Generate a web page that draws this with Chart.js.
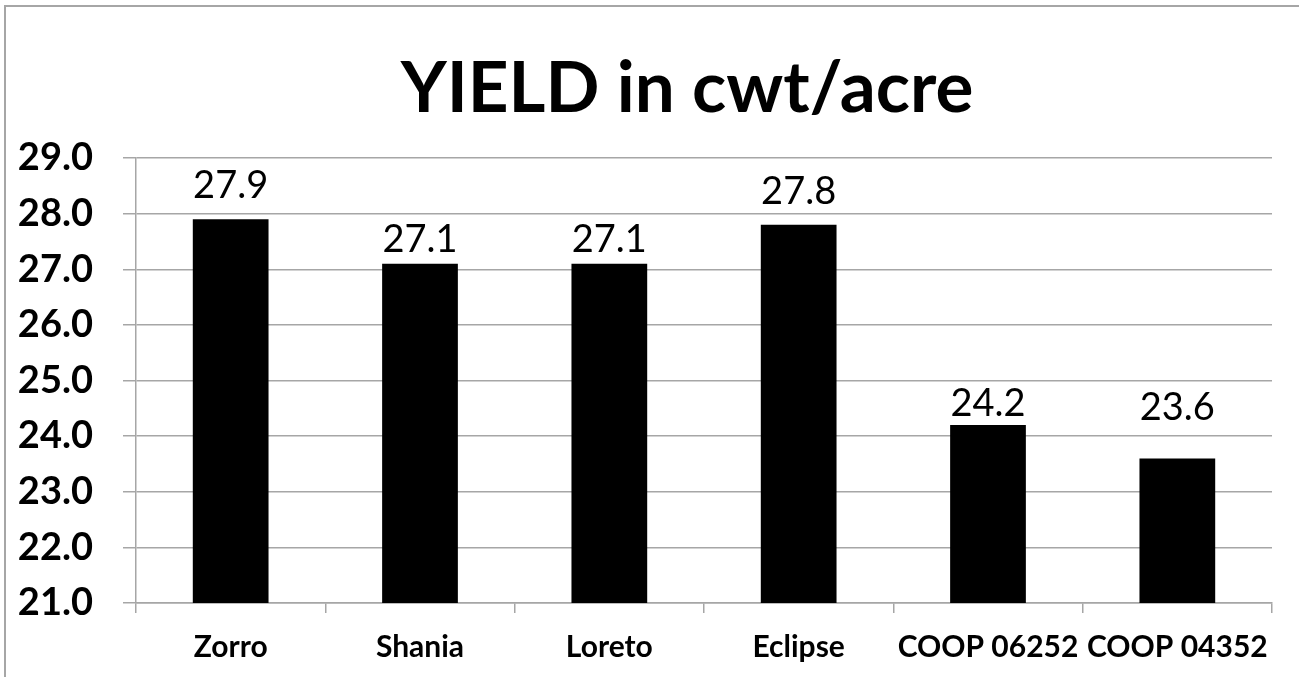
<!DOCTYPE html>
<html>
<head>
<meta charset="utf-8">
<script src="https://cdn.jsdelivr.net/npm/chart.js@4"></script>
<style>
  html, body { margin: 0; padding: 0; background: #fff; overflow: hidden; }
  #frame { position: absolute; left: 4px; top: 5px; width: 1400px; height: 800px;
    border-left: 2px solid #a6a6a6; border-top: 2px solid #a6a6a6; }
  #wrap { position: absolute; left: 0; top: 0; width: 1299px; height: 677px; }
</style>
</head>
<body>
<div id="frame"></div>
<div id="wrap"><canvas id="yieldChart"></canvas></div>
<script>
const chartTitle = "YIELD in cwt/acre";
const varieties = ["Zorro", "Shania", "Loreto", "Eclipse", "COOP 06252", "COOP 04352"];
const yields = [27.9, 27.1, 27.1, 27.8, 24.2, 23.6];
const yMin = 21;
const yMax = 29;

const FONT = "Lato, 'Open Sans', sans-serif";
// labels in the original were nudged by hand, so the gap above each bar differs (px)
const labelGap = [21, 12, 12, 21, 9, 38];

// title sits a bit right of the canvas centre, so it is drawn here
const titleText = {
  id: "titleText",
  afterDraw(chart) {
    const ctx = chart.ctx;
    ctx.save();
    ctx.font = `bold 71px ${FONT}`;
    ctx.fillStyle = "#000";
    ctx.textAlign = "center";
    ctx.textBaseline = "alphabetic";
    ctx.fillText(chartTitle, 687, 112);
    ctx.restore();
  },
};

// draws the value above each bar
const valueLabels = {
  id: "valueLabels",
  afterDatasetsDraw(chart) {
    const ctx = chart.ctx;
    const meta = chart.getDatasetMeta(0);
    ctx.save();
    ctx.font = `38px ${FONT}`;
    ctx.fillStyle = "#000";
    ctx.textAlign = "center";
    ctx.textBaseline = "alphabetic";
    meta.data.forEach((bar, i) => {
      ctx.fillText(yields[i].toFixed(1), bar.x, bar.y - labelGap[i]);
    });
    ctx.restore();
  },
};

new Chart(document.getElementById("yieldChart").getContext("2d"), {
  type: "bar",
  data: {
    labels: varieties,
    datasets: [{
      data: yields,
      backgroundColor: "#000",
      borderWidth: 0,
      categoryPercentage: 1,
      barPercentage: 0.4,
    }],
  },
  options: {
    responsive: true,
    maintainAspectRatio: false,
    animation: false,
    layout: { padding: { left: 0, right: 27, top: 158, bottom: 0 } },
    plugins: {
      legend: { display: false },
      tooltip: { enabled: false },
      title: { display: false },
    },
    scales: {
      y: {
        min: yMin,
        max: yMax,
        ticks: {
          stepSize: 1,
          color: "#000",
          padding: 30,
          font: { family: FONT, size: 38, weight: "bold" },
          callback: (v) => Number(v).toFixed(1),
        },
        grid: { color: "#a6a6a6", lineWidth: 1.5, tickLength: 13 },
        border: { color: "#a6a6a6", width: 1.5 },
        afterFit(scale) { scale.width = 136; },
      },
      x: {
        offset: true,
        ticks: {
          color: "#000",
          padding: 16,
          font: { family: FONT, size: 30, weight: "bold" },
          maxRotation: 0,
          autoSkip: false,
        },
        grid: { offset: true, drawOnChartArea: false, color: "#a6a6a6", lineWidth: 1.5, tickLength: 10 },
        border: { color: "#a6a6a6", width: 1.5 },
        afterFit(scale) { scale.height = 74; },
      },
    },
  },
  plugins: [valueLabels, titleText],
});
</script>
</body>
</html>
